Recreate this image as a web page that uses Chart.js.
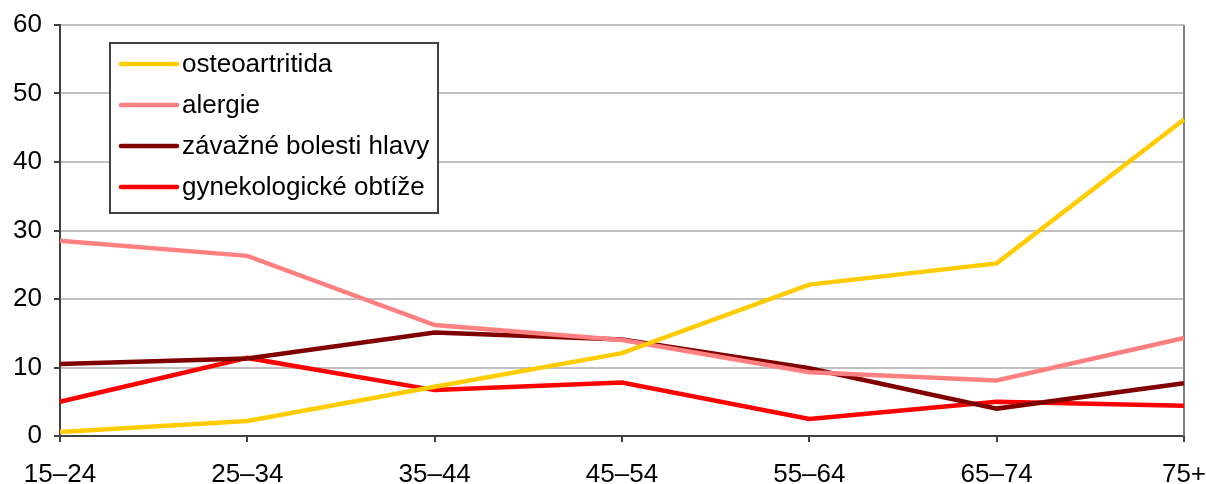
<!DOCTYPE html>
<html>
<head>
<meta charset="utf-8">
<script src="https://cdn.jsdelivr.net/npm/chart.js@4/dist/chart.umd.min.js"></script>
<style>
  html, body { margin: 0; padding: 0; background: #ffffff; }
  #wrap { width: 1206px; height: 484px; }
</style>
</head>
<body>
<div id="wrap"><canvas id="c"></canvas></div>
<script>
// Age groups
const ageGroups = ['15–24', '25–34', '35–44', '45–54', '55–64', '65–74', '75+'];

// Share of respondents (%) per condition
const osteoartritida = [0.6, 2.2, 7.2, 12.1, 22.1, 25.2, 46.2];
const alergie = [28.5, 26.3, 16.2, 14.0, 9.3, 8.1, 14.3];
const bolestiHlavy = [10.5, 11.3, 15.1, 14.1, 9.9, 4.0, 7.7];
const gynekologickeObtize = [5.0, 11.4, 6.7, 7.8, 2.5, 5.0, 4.4];

const seriesNames = ['osteoartritida', 'alergie', 'závažné bolesti hlavy', 'gynekologické obtíže'];
const seriesColors = ['#FFCC00', '#FF8080', '#800000', '#FF0000'];

const yTicks = [0, 10, 20, 30, 40, 50, 60];

const FONT = '"Liberation Sans", Arial, sans-serif';
const FONT_SIZE = 26;

// Boxed legend in the upper-left of the plot, plus the right-hand frame line
const framePlugin = {
  id: 'frameAndLegend',
  beforeDatasetsDraw(chart) {
    const { ctx, chartArea } = chart;
    ctx.save();
    ctx.strokeStyle = '#808080';
    ctx.lineWidth = 2;
    ctx.beginPath();
    ctx.moveTo(chartArea.right, chartArea.top);
    ctx.lineTo(chartArea.right, chartArea.bottom);
    ctx.stroke();
    ctx.restore();
  },
  afterDatasetsDraw(chart) {
    const { ctx } = chart;
    const box = { x: 110, y: 43, w: 328, h: 170 };
    ctx.save();
    ctx.fillStyle = '#ffffff';
    ctx.fillRect(box.x, box.y, box.w, box.h);
    ctx.strokeStyle = '#404040';
    ctx.lineWidth = 2;
    ctx.strokeRect(box.x, box.y, box.w, box.h);
    ctx.font = FONT_SIZE + 'px ' + FONT;
    ctx.textBaseline = 'middle';
    ctx.textAlign = 'left';
    chart.data.datasets.forEach((ds, i) => {
      const cy = box.y + 21 + i * 41;
      ctx.strokeStyle = ds.borderColor;
      ctx.lineWidth = 4.5;
      ctx.lineCap = 'round';
      ctx.beginPath();
      ctx.moveTo(121, cy);
      ctx.lineTo(177, cy);
      ctx.stroke();
      ctx.fillStyle = '#000000';
      ctx.fillText(ds.label, 182, cy + 1);
    });
    ctx.restore();
  }
};

const seriesData = [osteoartritida, alergie, bolestiHlavy, gynekologickeObtize];

new Chart(document.getElementById('c'), {
  type: 'line',
  data: {
    labels: ageGroups,
    datasets: seriesData.map((d, i) => ({
      label: seriesNames[i],
      data: d,
      borderColor: seriesColors[i],
      backgroundColor: seriesColors[i],
      borderWidth: 4.5,
      pointRadius: 0,
      tension: 0,
      fill: false
    }))
  },
  options: {
    responsive: true,
    maintainAspectRatio: false,
    animation: false,
    layout: { padding: { top: 25, right: 22, left: 0, bottom: 0 } },
    plugins: {
      legend: { display: false },
      tooltip: { enabled: false }
    },
    scales: {
      x: {
        offset: false,
        grid: {
          display: true,
          drawOnChartArea: false,
          drawTicks: true,
          tickLength: 6,
          tickColor: '#404040',
          lineWidth: 2
        },
        border: { display: true, color: '#404040', width: 2 },
        ticks: {
          color: '#000000',
          font: { family: FONT, size: FONT_SIZE },
          padding: 17,
          maxRotation: 0,
          autoSkip: false
        },
        afterFit(scale) {
          scale.height = 48;
          scale.paddingLeft = 0;
          scale.paddingRight = 0;
        }
      },
      y: {
        min: 0,
        max: 60,
        afterBuildTicks(scale) { scale.ticks = yTicks.map(v => ({ value: v })); },
        grid: {
          color: '#C0C0C0',
          lineWidth: 2,
          drawTicks: true,
          tickLength: 6,
          tickColor: '#404040'
        },
        border: { display: true, color: '#404040', width: 2 },
        ticks: {
          color: '#000000',
          font: { family: FONT, size: FONT_SIZE },
          padding: 12
        },
        afterFit(scale) {
          scale.width = 60;
          scale.paddingTop = 0;
          scale.paddingBottom = 0;
        }
      }
    }
  },
  plugins: [framePlugin]
});
</script>
</body>
</html>
